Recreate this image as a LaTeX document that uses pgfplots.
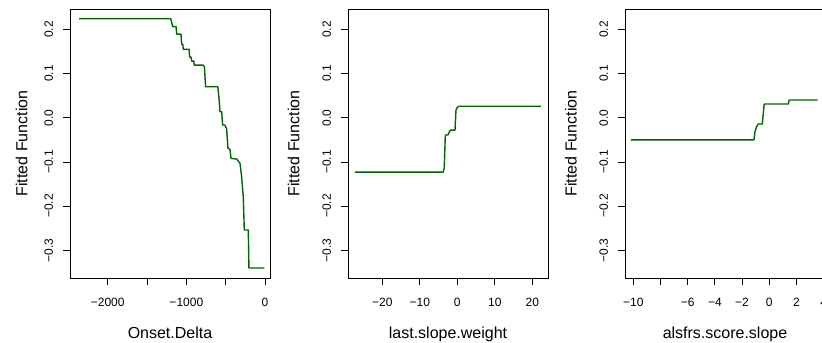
\documentclass[border=0pt]{standalone}
\usepackage{fontspec}
\setmainfont{Liberation Sans}
\usepackage{pgfplots}
\pgfplotsset{compat=1.18}
\definecolor{rgreen}{HTML}{006400}
\pgfplotsset{
  rpanel/.style={
    scale only axis, width=150pt, height=201.75pt,
    anchor=south west,
    ymin=-0.3627, ymax=0.246,
    ytick={-0.3,-0.2,-0.1,0,0.1,0.2},
    yticklabels={−0.3,−0.2,−0.1,0.0,0.1,0.2},
    tick align=outside, major tick length=5.25pt,
    xtick pos=bottom, ytick pos=left,
    axis line style={line width=0.6pt},
    every tick/.style={line width=0.6pt, black},
    tick label style={font=\fontsize{9}{11}\selectfont, inner sep=0pt},
    yticklabel style={rotate=90, anchor=south},
    xticklabel style={anchor=north},
    yticklabel shift=7.25pt, xticklabel shift=9.55pt,
    label style={font=\fontsize{12}{14}\selectfont},
    ylabel={Fitted Function},
    xlabel style={at={(axis description cs:0.5,0)}, anchor=base, yshift=-45.5pt},
    clip=false,
  },
  rline/.style={rgreen, line width=1.05pt, line join=round}
}
\begin{document}
\begin{tikzpicture}
\begin{axis}[rpanel, at={(52.5pt,48.75pt)},
  xmin=-2480, xmax=64,
  xtick={-2000,-1500,-1000,-500,0},
  xticklabels={−2000,,−1000,,0},
  xlabel={Onset.Delta},
  ylabel style={at={([xshift=-31.9pt]axis description cs:0,0.5)}, anchor=base}]
\addplot[rline] coordinates {
(-2365,0.224) (-1199,0.224) (-1185,0.215) (-1174,0.206) (-1130,0.206)
(-1123,0.189) (-1068,0.189) (-1060,0.166) (-1045,0.166) (-1039,0.155)
(-965,0.155) (-958,0.137) (-940,0.137) (-932,0.128) (-905,0.128)
(-899,0.119) (-790,0.119) (-770,0.115) (-755,0.070) (-600,0.070)
(-594,0.060) (-585,0.045) (-572,0.0136) (-551,0.0136) (-538,-0.0165)
(-509,-0.0165) (-496,-0.022) (-488,-0.024) (-471,-0.069) (-445,-0.0715)
(-432,-0.092) (-360,-0.0935) (-318,-0.103) (-297,-0.133) (-276,-0.179)
(-263,-0.254) (-212,-0.254) (-204,-0.340) (-9,-0.340)
};
\end{axis}
\begin{axis}[rpanel, at={(261pt,48.75pt)},
  xmin=-29.15, xmax=24.19,
  xtick={-20,-10,0,10,20},
  xticklabels={−20,−10,0,10,20},
  xlabel={last.slope.weight},
  ylabel style={at={([xshift=-36.5pt]axis description cs:0,0.5)}, anchor=base}]
\addplot[rline] coordinates {
(-27.3,-0.123) (-3.73,-0.123) (-3.47,-0.112) (-3.2,-0.039) (-2.5,-0.039)
(-2.13,-0.032) (-1.76,-0.028) (-0.61,-0.028) (-0.35,0.0174) (0,0.0235)
(0.53,0.026) (22.3,0.026)
};
\end{axis}
\begin{axis}[rpanel, at={(468.75pt,48.75pt)},
  xmin=-10.61, xmax=4.10,
  xtick={-10,-8,-6,-4,-2,0,2,4},
  xticklabels={−10,,−6,−4,−2,0,2,4},
  xlabel={alsfrs.score.slope},
  ylabel style={at={([xshift=-36.2pt]axis description cs:0,0.5)}, anchor=base}]
\addplot[rline] coordinates {
(-10.17,-0.050) (-1.125,-0.050) (-1.05,-0.032) (-0.93,-0.020) (-0.81,-0.0143)
(-0.51,-0.0143) (-0.44,0.010) (-0.37,0.031) (1.40,0.031) (1.47,0.040)
(3.56,0.040)
};
\end{axis}
\pgfresetboundingbox
\useasboundingbox (0,0) rectangle (616.5pt,257.25pt);
\end{tikzpicture}
\end{document}
